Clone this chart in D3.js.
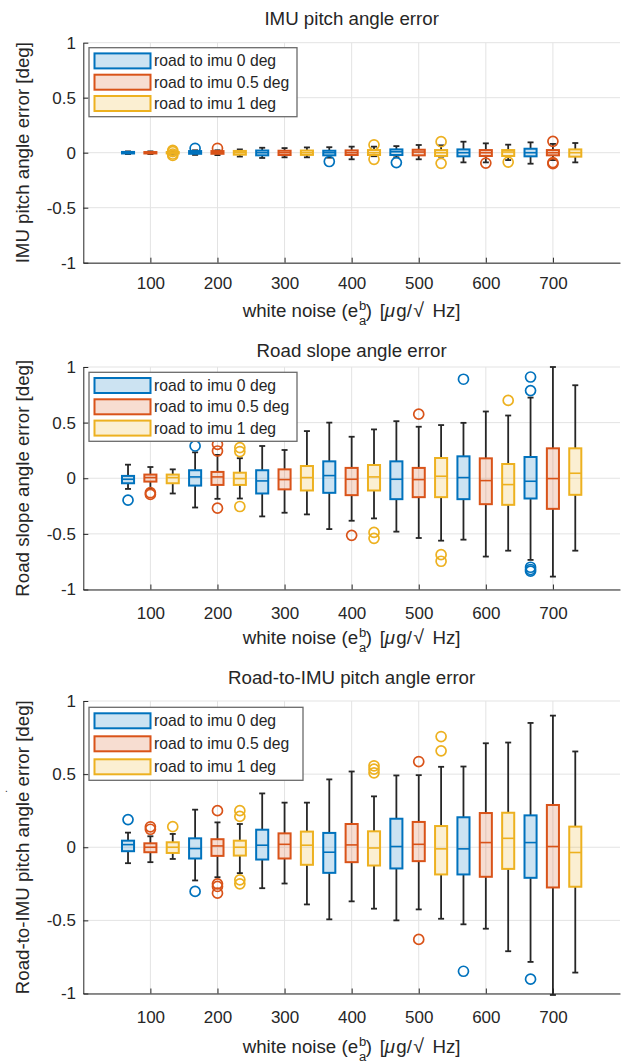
<!DOCTYPE html>
<html><head><meta charset="utf-8">
<script src="https://cdn.jsdelivr.net/npm/d3@7"></script>
<style>
body{margin:0;background:#fff}
svg{display:block}
text{font-family:"Liberation Sans",Arial,Helvetica,sans-serif;fill:#262626}
</style>
</head><body>
<svg id="chart" width="628" height="1064"></svg>
<script>
// ---------- categories / labels ----------
const noiseLevels = [100, 200, 300, 400, 500, 600, 700];
const seriesNames = ["road to imu 0 deg", "road to imu 0.5 deg", "road to imu 1 deg"];
const seriesColors = ["#0072BD", "#D95319", "#EDB120"];
const xTickValues = [100, 200, 300, 400, 500, 600, 700];
const yTickValues = [-1, -0.5, 0, 0.5, 1];
const yTickLabels = ["-1", "-0.5", "0", "0.5", "1"];
const panelTitles = ["IMU pitch angle error", "Road slope angle error", "Road-to-IMU pitch angle error"];
const panelYLabels = ["IMU pitch angle error [deg]", "Road slope angle error [deg]", "Road-to-IMU pitch angle error [deg]"];

// box order: for each noise level -> series 0, 1, 2
// ---------- Panel 1: IMU pitch angle error ----------
const imuWhiskerLo = [-0.012,-0.012,-0.010, -0.020,-0.022,-0.035, -0.048,-0.042,-0.042, -0.045,-0.060,-0.032, -0.042,-0.060,-0.036, -0.088,-0.088,-0.067, -0.100,-0.067,-0.088];
const imuQ1        = [-0.007,-0.007,-0.007, -0.010,-0.010,-0.018, -0.024,-0.021,-0.020, -0.024,-0.021,-0.021, -0.021,-0.024,-0.030, -0.033,-0.030,-0.030, -0.033,-0.024,-0.036];
const imuMedian    = [0.000,0.000,0.000, 0.004,0.004,0.000, 0.000,0.000,0.000, 0.000,0.000,0.000, 0.009,0.006,0.000, 0.000,0.000,0.006, 0.000,0.000,0.000];
const imuQ3        = [0.007,0.006,0.006, 0.015,0.015,0.016, 0.020,0.018,0.020, 0.018,0.021,0.024, 0.030,0.027,0.024, 0.030,0.024,0.024, 0.036,0.024,0.030];
const imuWhiskerHi = [0.012,0.012,0.010, 0.022,0.022,0.030, 0.045,0.042,0.048, 0.050,0.055,0.055, 0.060,0.070,0.067, 0.100,0.085,0.073, 0.094,0.080,0.088];
const imuOutliers  = [[],[],[0.022,0.010,-0.012,-0.025], [0.040],[0.040],[], [],[],[], [-0.080],[],[0.072,-0.060], [-0.090],[],[0.100,-0.097], [],[-0.094],[-0.085], [],[0.103,-0.090,-0.100],[]];

// ---------- Panel 2: Road slope angle error ----------
const slopeWhiskerLo = [-0.096,-0.096,-0.137, -0.263,-0.185,-0.182, -0.343,-0.310,-0.325, -0.457,-0.382,-0.361, -0.480,-0.537,-0.561, -0.552,-0.704,-0.651, -0.734,-0.884,-0.651];
const slopeQ1        = [-0.045,-0.030,-0.045, -0.066,-0.060,-0.060, -0.137,-0.100,-0.110, -0.131,-0.152,-0.110, -0.188,-0.170,-0.170, -0.188,-0.233,-0.239, -0.182,-0.275,-0.149];
const slopeMedian    = [-0.009,0.006,0.006, 0.012,0.012,-0.003, -0.024,-0.012,0.006, 0.024,-0.009,0.012, -0.009,-0.012,0.018, 0.006,-0.021,-0.057, -0.027,-0.003,0.045];
const slopeQ3        = [0.021,0.033,0.033, 0.072,0.057,0.050, 0.072,0.080,0.110, 0.152,0.093,0.119, 0.152,0.093,0.182, 0.197,0.179,0.128, 0.191,0.269,0.269];
const slopeWhiskerHi = [0.122,0.101,0.080, 0.233,0.210,0.180, 0.290,0.254,0.424, 0.500,0.373,0.439, 0.513,0.463,0.478, 0.498,0.600,0.564, 0.725,1.000,0.836];
const slopeOutliers  = [[-0.197],[-0.130,-0.145],[], [0.290],[0.245,0.305,-0.269],[0.240,0.275,-0.254], [],[],[], [],[-0.513],[-0.487,-0.540], [],[0.576],[-0.687,-0.746], [0.890],[],[0.700], [0.910,0.788,-0.800,-0.820,-0.835],[],[]];

// ---------- Panel 3: Road-to-IMU pitch angle error ----------
const r2iWhiskerLo = [-0.109,-0.102,-0.080, -0.227,-0.205,-0.177, -0.280,-0.248,-0.391, -0.493,-0.370,-0.420, -0.500,-0.425,-0.489, -0.527,-0.557,-0.711, -0.784,-1.010,-0.857];
const r2iQ1        = [-0.027,-0.034,-0.039, -0.077,-0.059,-0.057, -0.084,-0.077,-0.120, -0.175,-0.102,-0.125, -0.145,-0.095,-0.186, -0.186,-0.202,-0.148, -0.209,-0.275,-0.270];
const r2iMedian    = [0.018,0.000,0.000, -0.009,0.009,0.000, 0.014,0.020,0.014, -0.034,0.016,-0.005, 0.005,0.020,-0.011, -0.011,0.032,0.061, 0.032,0.005,-0.036];
const r2iQ3        = [0.045,0.027,0.034, 0.061,0.055,0.045, 0.120,0.095,0.107, 0.098,0.159,0.109, 0.195,0.173,0.145, 0.205,0.234,0.236, 0.218,0.289,0.141];
const r2iWhiskerHi = [0.100,0.075,0.091, 0.257,0.170,0.159, 0.368,0.305,0.305, 0.464,0.518,0.348, 0.491,0.493,0.550, 0.552,0.711,0.716, 0.850,0.900,0.655];
const r2iOutliers  = [[0.189],[0.140,0.123],[0.141], [-0.302],[0.250,-0.250,-0.268,-0.314],[0.250,0.211,-0.223,-0.250], [],[],[], [],[],[0.557,0.534,0.509], [],[0.586,-0.630],[0.757,0.659], [-0.848],[],[], [-0.902],[],[]];

// ---------- layout (positions / sizes) ----------
const panels = [
  {top:42.7, bottom:262.7, titleY:25, tickPad:14.2, xlabY:317, leg:{y0:47.7, h:69, w:208, rowH:21.3},
   data:{lo:imuWhiskerLo,q1:imuQ1,med:imuMedian,q3:imuQ3,hi:imuWhiskerHi,out:imuOutliers}},
  {top:367, bottom:589.5, titleY:356.5, tickPad:17, xlabY:644, leg:{y0:372.3, h:69, w:208, rowH:21.3},
   data:{lo:slopeWhiskerLo,q1:slopeQ1,med:slopeMedian,q3:slopeQ3,hi:slopeWhiskerHi,out:slopeOutliers}},
  {top:701, bottom:993.5, titleY:684, tickPad:17, xlabY:1053, leg:{y0:707.3, h:73, w:214, rowH:23},
   data:{lo:r2iWhiskerLo,q1:r2iQ1,med:r2iMedian,q3:r2iQ3,hi:r2iWhiskerHi,out:r2iOutliers}}
];
const L = 83.3, R = 620;
const svg = d3.select("#chart");
const x = d3.scaleLinear().domain([0, 800]).range([L, R]);
const boxW = 18; // in data units
const positions = [];
noiseLevels.forEach(lv => seriesNames.forEach((s, k) => positions.push({pos: lv + (k - 1) * 100 / 3, s: k})));

// x-label pieces (TeX-like layout): [text, offset in em, baseline shift in em, size factor, italic]
const labFont = 18.7;
const xlabPieces = [
  ["white noise (e", 0, 0, 1, false],
  ["b", 6.22, -0.40, 0.7, false],
  ["a", 6.22, 0.45, 0.7, false],
  [")", 6.58, 0, 1, false],
  ["[", 7.33, 0, 1, false],
  ["μ", 7.60, 0, 1, true],
  ["g/", 8.21, 0, 1, false],
  ["√", 9.12, 0, 1.05, false],
  ["Hz]", 10.15, 0, 1, false]
];
const xlabWidthEm = 11.65;

panels.forEach((p, pi) => {
  const y = d3.scaleLinear().domain([-1, 1]).range([p.bottom, p.top]);
  const g = svg.append("g");
  // grid
  g.append("g").selectAll("line").data(xTickValues).join("line")
    .attr("x1", d => x(d)).attr("x2", d => x(d)).attr("y1", p.top).attr("y2", p.bottom)
    .attr("stroke", "#e3e3e3").attr("stroke-width", 1);
  g.append("g").selectAll("line").data(yTickValues).join("line")
    .attr("x1", L).attr("x2", R).attr("y1", d => y(d)).attr("y2", d => y(d))
    .attr("stroke", "#e3e3e3").attr("stroke-width", 1);

  // axes
  const xa = g.append("g").attr("transform", `translate(0,${p.bottom})`)
    .call(d3.axisBottom(x).tickValues(xTickValues).tickFormat(d3.format("d")).tickSizeInner(-5).tickSizeOuter(0).tickPadding(p.tickPad));
  const ya = g.append("g").attr("transform", `translate(${L},0)`)
    .call(d3.axisLeft(y).tickValues(yTickValues).tickFormat((d, i) => yTickLabels[i]).tickSizeInner(-5).tickSizeOuter(0).tickPadding(7.3));
  [xa, ya].forEach(a => {
    a.selectAll("path,line").attr("stroke", "#262626");
    a.selectAll("text").style("font-size", "17px").style("font-family", '"Liberation Sans",Arial,sans-serif').attr("fill", "#262626");
  });

  // boxes
  const D = p.data;
  const bg = g.append("g");
  positions.forEach((b, i) => {
    const c = seriesColors[b.s];
    const cx = x(b.pos), hw = (x(boxW) - x(0)) / 2;
    const wl = (y1, y2) => bg.append("line").attr("x1", cx).attr("x2", cx).attr("y1", y1).attr("y2", y2)
      .attr("stroke", "#262626").attr("stroke-width", 1.8);
    const cap = yy => bg.append("line").attr("x1", cx - 3).attr("x2", cx + 3).attr("y1", yy).attr("y2", yy)
      .attr("stroke", "#262626").attr("stroke-width", 1.8);
    wl(y(D.q3[i]), y(D.hi[i])); wl(y(D.q1[i]), y(D.lo[i]));
    cap(y(D.hi[i])); cap(y(D.lo[i]));
    bg.append("rect").attr("x", cx - hw).attr("width", 2 * hw)
      .attr("y", y(D.q3[i])).attr("height", Math.max(0.5, y(D.q1[i]) - y(D.q3[i])))
      .attr("fill", c).attr("fill-opacity", 0.2).attr("stroke", c).attr("stroke-width", 2);
    bg.append("line").attr("x1", cx - hw).attr("x2", cx + hw).attr("y1", y(D.med[i])).attr("y2", y(D.med[i]))
      .attr("stroke", c).attr("stroke-width", 1.6);
    D.out[i].forEach(v => {
      bg.append("circle").attr("cx", cx).attr("cy", y(v)).attr("r", 5)
        .attr("fill", "none").attr("stroke", c).attr("stroke-width", 1.7);
    });
  });

  // title
  g.append("text").attr("x", (L + R) / 2).attr("y", p.titleY).attr("text-anchor", "middle")
    .style("font-size", "18.7px").text(panelTitles[pi]);
  // y label
  const cy = (p.top + p.bottom) / 2;
  g.append("text").attr("transform", `translate(28.5,${cy}) rotate(-90)`).attr("text-anchor", "middle")
    .style("font-size", "18.7px").text(panelYLabels[pi]);
  // x label
  const x0 = (L + R) / 2 - xlabWidthEm * labFont / 2;
  const xl = g.append("g");
  xlabPieces.forEach(([txt, off, dy, fsf, it]) => {
    xl.append("text").attr("x", x0 + off * labFont).attr("y", p.xlabY + dy * labFont)
      .style("font-size", (fsf * labFont) + "px").style("font-style", it ? "italic" : "normal")
      .text(txt);
  });

  // legend
  const lg = g.append("g");
  const lx = 89;
  lg.append("rect").attr("x", lx).attr("y", p.leg.y0).attr("width", p.leg.w).attr("height", p.leg.h)
    .attr("fill", "#fff").attr("stroke", "#6b6b6b").attr("stroke-width", 1.3);
  seriesNames.forEach((s, k) => {
    const rc = p.leg.y0 + p.leg.h / 2 + (k - 1) * p.leg.rowH;
    lg.append("rect").attr("x", lx + 5.5).attr("y", rc - 7.5).attr("width", 56).attr("height", 15)
      .attr("fill", seriesColors[k]).attr("fill-opacity", 0.2).attr("stroke", seriesColors[k]).attr("stroke-width", 2);
    lg.append("text").attr("x", lx + 65).attr("y", rc + 5.5).style("font-size", "15.7px").text(s);
  });
});
// stray mark present in the original figure
svg.append("text").attr("x", 5).attr("y", 792).style("font-size", "10px").text(".");
</script>
</body></html>
